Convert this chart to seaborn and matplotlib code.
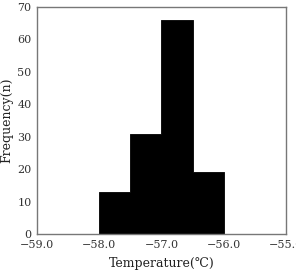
import matplotlib
matplotlib.use("Agg")
import matplotlib.pyplot as plt
import seaborn as sns
import numpy as np

bin_edges = [-58.0, -57.5, -57.0, -56.5, -56.0]
bin_centers = [-57.75, -57.25, -56.75, -56.25]
counts = [13, 31, 66, 19]
x_ticks = [-59.0, -58.0, -57.0, -56.0, -55.0]
x_tick_labels = ["\u221259.0", "\u221258.0", "\u221257.0", "\u221256.0", "\u221255.0"]
y_ticks = [0, 10, 20, 30, 40, 50, 60, 70]

sns.set_style("white")
plt.rcParams['font.family'] = ['DejaVu Serif', 'DejaVu Sans']

fig = plt.figure(figsize=(2.96, 2.70), dpi=100)
ax = fig.add_axes([0.125, 0.133, 0.841, 0.841])

sns.histplot(x=bin_centers, weights=counts, bins=bin_edges, color="black",
             element="step", fill=True, alpha=1, linewidth=0.6,
             edgecolor="black", ax=ax)

ax.set_xlim(-59, -55)
ax.set_ylim(0, 70)
ax.set_xticks(x_ticks)
ax.set_xticklabels(x_tick_labels)
ax.set_xticks(np.arange(-58.5, -55, 1.0), minor=True)
ax.set_yticks(y_ticks)
ax.tick_params(axis='x', direction='in', length=3, width=0.8, color='#555555',
               labelsize=8, labelcolor='#333333', pad=4)
ax.tick_params(axis='x', which='minor', direction='in', length=3, width=0.8, color='#555555')
ax.tick_params(axis='y', direction='out', length=2.5, width=0.8, color='#555555',
               labelsize=8, labelcolor='#333333', pad=1.5)
ax.set_xlabel("Temperature(\u2103)", fontsize=9, color='#222222', labelpad=5)
ax.set_ylabel("Frequency(n)", fontsize=9, color='#222222', labelpad=3)
for s in ax.spines.values():
    s.set_visible(True)
    s.set_color('#777777')
    s.set_linewidth(1.0)

fig.savefig("out.png", dpi=100)
